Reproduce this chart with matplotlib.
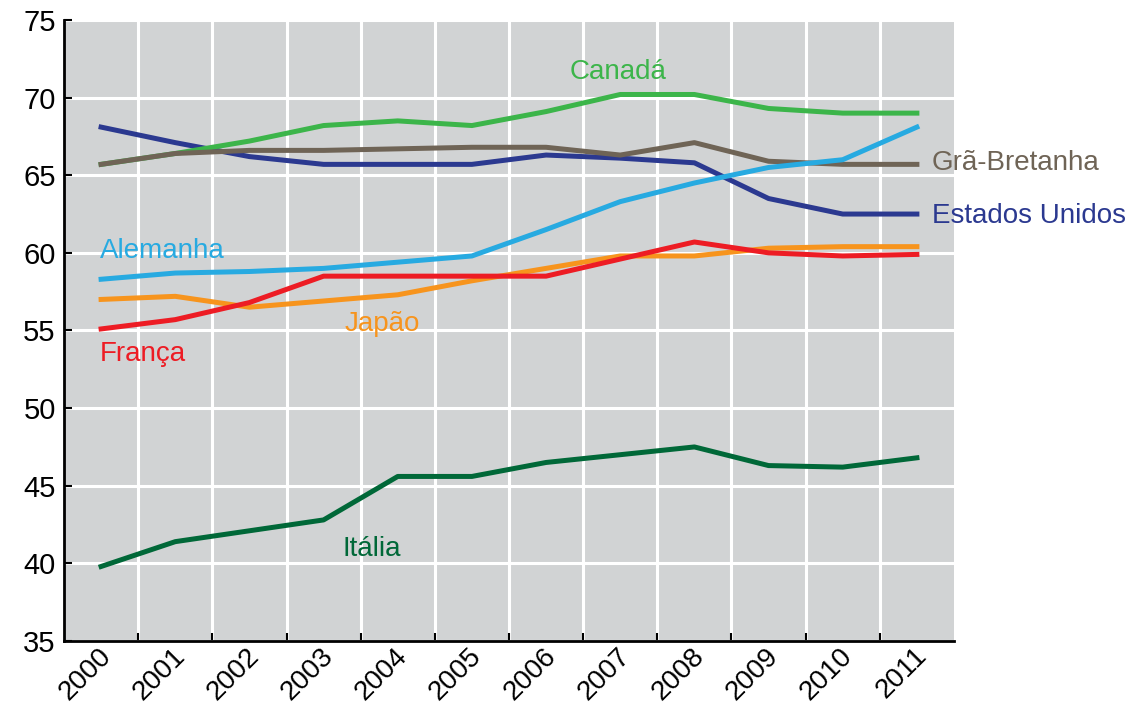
import matplotlib.pyplot as plt
import matplotlib.transforms as mtransforms
import numpy as np

plt.rcParams['font.family'] = ['Liberation Sans', 'DejaVu Sans']

anos = ['2000', '2001', '2002', '2003', '2004', '2005',
        '2006', '2007', '2008', '2009', '2010', '2011']

canada = [65.7, 66.4, 67.2, 68.2, 68.5, 68.2, 69.1, 70.2, 70.2, 69.3, 69.0, 69.0]
gra_bretanha = [65.7, 66.4, 66.6, 66.6, 66.7, 66.8, 66.8, 66.3, 67.1, 65.9, 65.7, 65.7]
estados_unidos = [68.1, 67.1, 66.2, 65.7, 65.7, 65.7, 66.3, 66.1, 65.8, 63.5, 62.5, 62.5]
alemanha = [58.3, 58.7, 58.8, 59.0, 59.4, 59.8, 61.5, 63.3, 64.5, 65.5, 66.0, 68.1]
japao = [57.0, 57.2, 56.5, 56.9, 57.3, 58.2, 59.0, 59.8, 59.8, 60.3, 60.4, 60.4]
franca = [55.1, 55.7, 56.8, 58.5, 58.5, 58.5, 58.5, 59.6, 60.7, 60.0, 59.8, 59.9]
italia = [39.8, 41.4, 42.1, 42.8, 45.6, 45.6, 46.5, 47.0, 47.5, 46.3, 46.2, 46.8]

fig = plt.figure(figsize=(11.35, 7.08), dpi=100)
ax = fig.add_axes([0.0564, 0.0946, 0.7841, 0.8772])
ax.set_facecolor('#d1d3d4')

x = np.arange(len(anos))
lw = 3.6
ax.plot(x, italia, color='#006838', lw=lw, zorder=3)
ax.plot(x, estados_unidos, color='#2b3990', lw=lw, zorder=3)
ax.plot(x, canada, color='#3cb54a', lw=lw, zorder=3)
ax.plot(x, gra_bretanha, color='#6f6456', lw=lw, zorder=3)
ax.plot(x, japao, color='#f7941d', lw=lw, zorder=3)
ax.plot(x, franca, color='#ed1c24', lw=lw, zorder=3)
ax.plot(x, alemanha, color='#27aae1', lw=lw, zorder=3)

ax.set_xlim(-0.5, 11.5)
ax.set_ylim(35, 75)
ax.set_yticks(range(35, 76, 5))
ax.set_xticks(x)
ax.set_xticklabels(anos, rotation=45, ha='right', va='center', rotation_mode='anchor')
ax.set_xticks(np.arange(0.5, 11.5, 1), minor=True)

ax.tick_params(axis='x', which='major', length=0, pad=8, labelsize=20)
ax.tick_params(axis='x', which='minor', direction='in', length=6, width=1.5)
ax.tick_params(axis='y', direction='in', length=6, width=1.5, pad=6, labelsize=21)

# nudge the rotated year labels a little to the right
offset = mtransforms.ScaledTranslation(0.06, 0, fig.dpi_scale_trans)
for lab in ax.get_xticklabels():
    lab.set_transform(lab.get_transform() + offset)

ax.grid(True, axis='y', which='major', color='white', lw=2.2, zorder=1)
ax.grid(True, axis='x', which='minor', color='white', lw=2.2, zorder=1)
ax.set_axisbelow(True)

for s in ['top', 'right']:
    ax.spines[s].set_visible(False)
for s in ['left', 'bottom']:
    ax.spines[s].set_linewidth(2)

fs = 20
ax.text(6.97, 71.65, 'Canadá', color='#3cb54a', fontsize=fs, ha='center', va='center')
ax.text(11.2, 65.8, 'Grã-Bretanha', color='#6f6456', fontsize=fs, ha='left', va='center',
        clip_on=False)
ax.text(11.2, 62.4, 'Estados Unidos', color='#2b3990', fontsize=fs, ha='left', va='center',
        clip_on=False)
ax.text(-0.02, 60.15, 'Alemanha', color='#27aae1', fontsize=fs, ha='left', va='center')
ax.text(3.28, 55.45, 'Japão', color='#f7941d', fontsize=fs, ha='left', va='center')
ax.text(-0.02, 53.5, 'França', color='#ed1c24', fontsize=fs, ha='left', va='center')
ax.text(3.25, 40.95, 'Itália', color='#006838', fontsize=fs, ha='left', va='center')

fig.savefig('out.png', dpi=100)
